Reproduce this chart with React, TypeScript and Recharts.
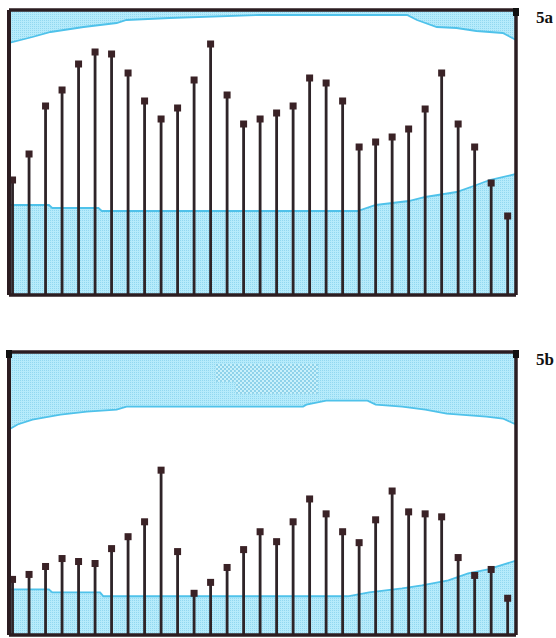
import React from 'react';
import {
  ComposedChart, Bar, Area, XAxis, YAxis, ReferenceLine, ReferenceArea, ReferenceDot,
} from 'recharts';

// one stem per day
const DAYS = [1, 2, 3, 4, 5, 6, 7, 8, 9, 10, 11, 12, 13, 14, 15, 16, 17, 18, 19, 20, 21, 22, 23, 24, 25, 26, 27, 28, 29, 30, 31];

// stem heights, panel 5a and 5b
const VALUES_A = [115, 141, 189, 205, 231, 243, 241, 222, 194, 176, 187, 215, 251, 200, 171, 176, 182, 189, 217, 212, 194, 148, 153, 158, 166, 186, 222, 171, 148, 112, 79];
const VALUES_B = [56, 61, 69, 77, 74, 72, 87, 99, 114, 166, 84, 42, 53, 68, 86, 104, 94, 114, 137, 122, 104, 93, 116, 145, 124, 122, 119, 78, 60, 66, 37];

// shaded bands (x in day units)
const LOWER_A_X = [0.78, 3.2, 3.4, 6.2, 6.4, 21.9, 23.0, 25.0, 26.0, 27.9, 29.1, 29.9, 31.5];
const LOWER_A_V = [90, 90, 87, 87, 84, 84, 90, 94, 98, 103, 110, 115, 121];
const UPPER_A_X = [0.78, 2.2, 3.3, 5.3, 7.3, 7.9, 10.5, 16, 24.9, 25.5, 26.7, 27.9, 29.1, 30.7, 31.5];
const UPPER_A_V = [252, 258, 263, 268, 272, 275, 277, 280, 280, 275, 268, 267, 264, 262, 255];

const LOWER_B_X = [0.78, 3.2, 3.4, 6.3, 6.5, 21.3, 22.6, 24.6, 25.8, 27.4, 28.6, 29.8, 31.5];
const LOWER_B_V = [46, 46, 43, 43, 39, 39, 43, 47, 50, 55, 62, 66, 75];
const UPPER_B_X = [0.78, 1.3, 2.2, 3.9, 5.5, 7.3, 7.9, 18.6, 18.8, 20.0, 22.5, 23.0, 24.6, 26.0, 27.3, 29.7, 30.7, 31.5];
const UPPER_B_V = [207, 212, 217, 222, 225, 227, 230, 230, 232, 236, 236, 232, 230, 227, 223, 220, 218, 212];

const X_MIN = 0.78;
const X_MAX = 31.5;
const Y_MAX = 285;

const FRAME = '#2b1d21';
const STEM = '#2e2428';
const EDGE = '#4fc2ea';

const toPoints = (xs: number[], vs: number[]) => xs.map((x, i) => ({ x, v: vs[i] }));

const Stem = (props: any) => {
  const { x, y, width, height } = props;
  const cx = x + width / 2;
  return (
    <g>
      <rect x={cx - 1.4} y={y} width={2.8} height={height} fill={STEM} />
      <rect x={cx - 3.5} y={y - 3.5} width={7} height={7} fill="#3a2226" />
    </g>
  );
};

const Corner = (props: any) => (
  <rect x={props.cx - 3} y={props.cy - 2} width={6} height={8} fill="#111" />
);

interface PanelProps {
  id: string;
  values: number[];
  lowerX: number[];
  lowerV: number[];
  upperX: number[];
  upperV: number[];
  top: number;
  marginTop: number;
  label: string;
  patch?: boolean;
  leftCorner?: boolean;
}

function Panel({ id, values, lowerX, lowerV, upperX, upperV, top, marginTop, label, patch, leftCorner }: PanelProps) {
  const data = DAYS.map((d, i) => ({ x: d, v: values[i] }));
  return (
    <div style={{ position: 'absolute', left: 0, top, width: 556, height: 298 }}>
      <ComposedChart width={520} height={298} data={data}
        margin={{ top: marginTop, right: 4, bottom: 3, left: 9 }}>
        <defs>
          <pattern id={`dots-${id}`} width="2" height="2" patternUnits="userSpaceOnUse">
            <rect width="2" height="2" fill="#b6ebfb" />
            <rect width="1" height="1" fill="#92d8f0" />
          </pattern>
          <pattern id={`patch-${id}`} width="4" height="4" patternUnits="userSpaceOnUse">
            <rect width="4" height="4" fill="#c9f1fb" />
            <rect width="2" height="2" fill="#8fd2ea" />
            <rect x="2" y="2" width="2" height="2" fill="#8fd2ea" />
          </pattern>
        </defs>
        <XAxis dataKey="x" type="number" domain={[X_MIN, X_MAX]} allowDataOverflow hide />
        <YAxis type="number" domain={[0, Y_MAX]} allowDataOverflow hide />
        <Area data={toPoints(upperX, upperV)} dataKey="v" type="linear" baseValue={Y_MAX}
          fill={`url(#dots-${id})`} fillOpacity={1} stroke={EDGE} strokeWidth={1.8} isAnimationActive={false} />
        <Area data={toPoints(lowerX, lowerV)} dataKey="v" type="linear" baseValue={0}
          fill={`url(#dots-${id})`} fillOpacity={1} stroke={EDGE} strokeWidth={1.8} isAnimationActive={false} />
        {patch && (
          <ReferenceArea x1={13.3} x2={14.5} y1={255} y2={273} fill={`url(#patch-${id})`} fillOpacity={1} stroke="none" />
        )}
        {patch && (
          <ReferenceArea x1={14.5} x2={19.5} y1={243} y2={273} fill={`url(#patch-${id})`} fillOpacity={1} stroke="none" />
        )}
        <Bar dataKey="v" barSize={2} shape={<Stem />} isAnimationActive={false} />
        <ReferenceLine y={Y_MAX} stroke={FRAME} strokeWidth={3.5} />
        <ReferenceLine y={0} stroke={FRAME} strokeWidth={3.5} />
        <ReferenceLine x={X_MIN} stroke={FRAME} strokeWidth={4} />
        <ReferenceLine x={X_MAX} stroke={FRAME} strokeWidth={3.5} />
        <ReferenceDot x={X_MAX} y={Y_MAX} shape={<Corner />} />
        {leftCorner && <ReferenceDot x={X_MIN} y={Y_MAX} shape={<Corner />} />}
      </ComposedChart>
      <div style={{
        position: 'absolute', left: 536, top: marginTop - 2,
        fontFamily: '"Liberation Serif", serif', fontWeight: 700, fontSize: 17, color: '#111',
      }}>{label}</div>
    </div>
  );
}

export default function App() {
  return (
    <div style={{ position: 'absolute', left: 0, top: 0, width: 556, height: 638, background: '#fff' }}>
      <Panel id="a" values={VALUES_A} lowerX={LOWER_A_X} lowerV={LOWER_A_V}
        upperX={UPPER_A_X} upperV={UPPER_A_V} top={0} marginTop={10} label="5a" />
      <Panel id="b" values={VALUES_B} lowerX={LOWER_B_X} lowerV={LOWER_B_V}
        upperX={UPPER_B_X} upperV={UPPER_B_V} top={340} marginTop={12} label="5b" patch leftCorner />
    </div>
  );
}
